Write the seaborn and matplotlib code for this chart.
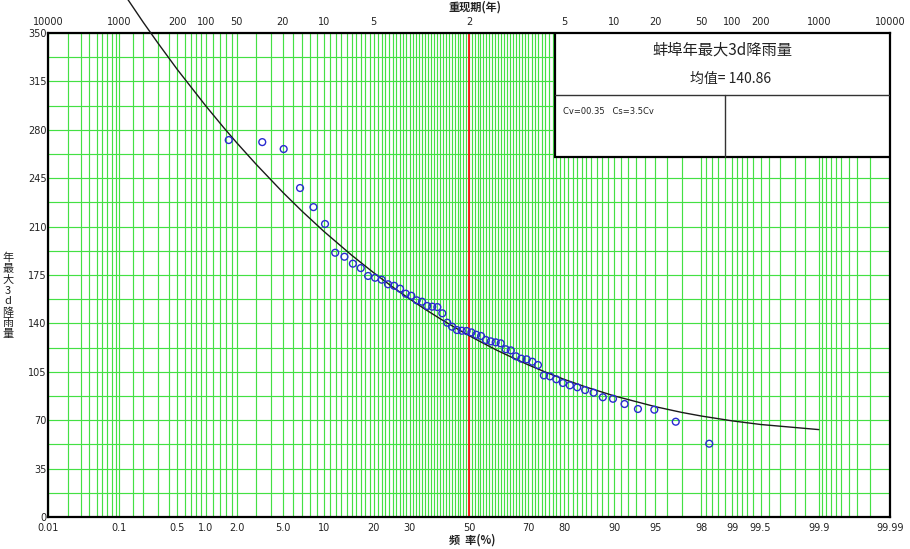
from statistics import NormalDist

import matplotlib
matplotlib.use('Agg')
import matplotlib.pyplot as plt
from matplotlib.patches import Rectangle
import numpy as np
import pandas as pd
import seaborn as sns


# empirical points (frequency %, 3-day max rainfall)
sample_freq = [1.69, 3.39, 5.08, 6.78, 8.47, 10.17, 11.86, 13.56, 15.25, 16.95,
               18.64, 20.34, 22.03, 23.73, 25.42, 27.12, 28.81, 30.51, 32.20,
               33.90, 35.59, 37.29, 38.98, 40.68, 42.37, 44.07, 45.76, 47.46,
               49.15, 50.85, 52.54, 54.24, 55.93, 57.63, 59.32, 61.02, 62.71,
               64.41, 66.10, 67.80, 69.49, 71.19, 72.88, 74.58, 76.27, 77.97,
               79.66, 81.36, 83.05, 84.75, 86.44, 88.14, 89.83, 91.53, 93.22,
               94.92, 96.61, 98.31]
sample_value = [272.6, 271.1, 266.1, 237.9, 224.1, 211.9, 191.1, 188.2, 183.2,
                180.0, 174.3, 173.0, 171.6, 168.3, 167.2, 165.1, 161.5, 160.0,
                156.7, 155.7, 152.6, 152.1, 151.8, 147.3, 140.5, 137.6, 135.2,
                134.7, 134.5, 133.5, 131.8, 130.9, 128.0, 127.0, 126.3, 125.6,
                121.3, 120.5, 116.2, 114.5, 114.0, 112.3, 109.9, 102.4, 101.7,
                99.6, 96.9, 95.2, 93.8, 91.8, 89.9, 86.6, 85.5, 81.7, 78.1,
                77.6, 68.9, 53.0]

# fitted curve
curve_freq = [0.05, 0.1, 0.2, 0.3, 0.5, 1, 1.5, 2, 3, 5, 7, 10, 15, 20, 25, 30,
              35, 40, 45, 50, 55, 60, 65, 70, 75, 80, 85, 90, 95, 97, 98, 99,
              99.5, 99.9]
curve_value = [409.1, 383.5, 357.8, 342.7, 323.5, 297.4, 281.9, 270.8, 255.1,
               234.8, 221.2, 206.5, 189.3, 176.6, 166.3, 157.7, 150.1, 143.3,
               137.1, 131.2, 125.7, 120.3, 115.2, 110.0, 104.8, 99.5, 93.9,
               87.6, 79.8, 75.6, 73.0, 69.5, 66.9, 63.2]

freq_ticks = [0.01, 0.1, 0.5, 1, 2, 5, 10, 20, 30, 50, 70, 80, 90, 95, 98, 99,
              99.5, 99.9, 99.99]
freq_labels = ['0.01', '0.1', '0.5', '1.0', '2.0', '5.0', '10', '20', '30',
               '50', '70', '80', '90', '95', '98', '99', '99.5', '99.9',
               '99.99']
period_ticks = [0.01, 0.1, 0.5, 1, 2, 5, 10, 20, 50, 80, 90, 95, 98, 99, 99.5,
                99.9, 99.99]
period_labels = ['10000', '1000', '200', '100', '50', '20', '10', '5', '2',
                 '5', '10', '20', '50', '100', '200', '1000', '10000']

grid_left = [0.01, 0.02, 0.03, 0.04, 0.05, 0.06, 0.07, 0.08, 0.09, 0.1, 0.15,
             0.2, 0.3, 0.4, 0.5, 0.6, 0.7, 0.8, 0.9, 1.0, 1.2, 1.4, 1.6, 1.8,
             2.0, 3, 4, 5, 6, 7, 8, 9] + list(range(10, 50))
grid_probs = grid_left + [round(100 - p, 2) for p in grid_left]

y_ticks = [0, 35, 70, 105, 140, 175, 210, 245, 280, 315, 350]

_nd = NormalDist()
_ppf = np.vectorize(_nd.inv_cdf, otypes=[float])
_cdf = np.vectorize(_nd.cdf, otypes=[float])


def prob_to_z(p):
    p = np.clip(np.asarray(p, dtype=float) / 100.0, 1e-12, 1 - 1e-12)
    return _ppf(p)


def z_to_prob(z):
    return 100.0 * _cdf(np.asarray(z, dtype=float))


sns.set_style('white')
plt.rcParams['font.family'] = ['DejaVu Sans', 'Noto Sans CJK SC']
cjk = ['Noto Sans CJK SC', 'DejaVu Sans']
green = '#44e044'

fig = plt.figure(figsize=(9.1, 5.49), dpi=100)
ax = fig.add_axes([48 / 910, 32 / 549, 842 / 910, 484 / 549])
ax.set_xscale('function', functions=(prob_to_z, z_to_prob))
ax.set_xlim(0.01, 99.99)
ax.set_ylim(0, 350)

ax.set_xticks(freq_ticks)
ax.set_xticklabels(freq_labels)
ax.set_xticks(grid_probs, minor=True)
ax.set_yticks(y_ticks)
ax.set_yticks(np.arange(17.5, 350, 35), minor=True)
ax.tick_params(which='both', length=0, labelsize=7, colors='#222222')
ax.tick_params(axis='x', pad=4)
ax.tick_params(axis='y', pad=1)
ax.grid(which='both', color=green, lw=0.85)
ax.set_axisbelow(True)
ax.axvline(50, color='#ff1010', lw=1.3, zorder=1.5)
for s in ax.spines.values():
    s.set_color('black')
    s.set_linewidth(1.6)

# return period labels along the top
top = ax.twiny()
top.set_xscale('function', functions=(prob_to_z, z_to_prob))
top.set_xlim(ax.get_xlim())
top.set_xticks(period_ticks)
top.set_xticklabels(period_labels)
top.set_xticks([], minor=True)
top.tick_params(length=0, labelsize=7, pad=4, colors='#222222')
top.grid(False)
top.patch.set_visible(False)
for s in top.spines.values():
    s.set_visible(False)

curve = pd.DataFrame({'freq': curve_freq, 'value': curve_value})
sns.lineplot(data=curve, x='freq', y='value', ax=ax, color='#1a1a1a', lw=1.0,
             sort=False, estimator=None, zorder=3)
ax.lines[-1].set_clip_on(False)

points = pd.DataFrame({'freq': sample_freq, 'value': sample_value})
sns.scatterplot(data=points, x='freq', y='value', ax=ax, s=24,
                facecolor='none', edgecolor='#2a2ad0', linewidth=1.0,
                zorder=4)
ax.set_xlabel('')
ax.set_ylabel('')

# info box in upper right
bx0, by0 = (555 - 48) / 842, (517 - 157) / 484
ax.add_patch(Rectangle((bx0, by0), 1 - bx0, 1 - by0, transform=ax.transAxes,
                       facecolor='white', edgecolor='black', lw=1.6, zorder=5))
ymid = (517 - 95) / 484
xmid = (725 - 48) / 842
ax.plot([bx0, 1], [ymid, ymid], transform=ax.transAxes, color='#333333',
        lw=1.0, zorder=6)
ax.plot([xmid, xmid], [by0, ymid], transform=ax.transAxes, color='#333333',
        lw=1.0, zorder=6)
cx = (bx0 + 1) / 2
ax.text(cx, (517 - 50) / 484, '蚌埠年最大3d降雨量', transform=ax.transAxes,
        ha='center', va='center', fontsize=11, family=cjk, color='#222222',
        zorder=7)
ax.text(cx + 0.01, (517 - 79) / 484, '均值= 140.86', transform=ax.transAxes,
        ha='center', va='center', fontsize=10, family=cjk, color='#222222',
        zorder=7)
ax.text((563 - 48) / 842, (517 - 111) / 484, 'Cv=00.35   Cs=3.5Cv',
        transform=ax.transAxes, ha='left', va='center', fontsize=6,
        color='#222222', zorder=7)

fig.text(475 / 910, 1 - 7 / 549, '重现期(年)', ha='center', va='center',
         fontsize=8, family=cjk, fontweight='bold', color='#222222')
fig.text(472 / 910, 1 - 540 / 549, '频  率(%)', ha='center', va='center',
         fontsize=8, family=cjk, fontweight='bold', color='#222222')
fig.text(8 / 910, 1 - 296 / 549, '\n'.join('年最大3d降雨量'), ha='center',
         va='center', fontsize=8, family=cjk, linespacing=1.1,
         color='#222222')

fig.savefig('out.png', dpi=100)
